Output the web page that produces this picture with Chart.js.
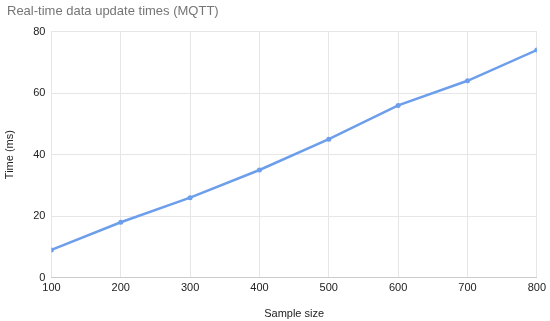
<!DOCTYPE html>
<html lang="en">
<head>
    <meta charset="UTF-8">
    <style>
        body { margin: 0; background: #fff; }
        #wrap { width: 550px; height: 321px; }
    </style>
</head>
<body>
<script src="https://cdn.jsdelivr.net/npm/chart.js@4/dist/chart.umd.min.js"></script>
<div id="wrap"><canvas id="line-chart" width="550" height="321"></canvas></div>
<script>
    // data
    sample_sizes = [100, 200, 300, 400, 500, 600, 700, 800]
    times_ms = [9, 18, 26, 35, 45, 56, 64, 74]

    points = sample_sizes.map((x, i) => ({ x: x, y: times_ms[i] }))

    Chart.defaults.font.family = "'Liberation Sans', Arial, sans-serif"
    Chart.defaults.color = '#222'

    new Chart(document.getElementById('line-chart'), {
        type: 'line',
        data: {
            datasets: [{
                label: 'Time (ms)',
                data: points,
                borderColor: '#6d9eeb',
                backgroundColor: '#6d9eeb',
                borderWidth: 2.5,
                pointRadius: 2.5,
                pointBorderWidth: 0,
                pointHoverRadius: 2.5,
                tension: 0
            }]
        },
        options: {
            responsive: false,
            animation: false,
            layout: { padding: { left: 7, right: 10, top: 2, bottom: 0 } },
            plugins: {
                legend: { display: false },
                title: {
                    display: true,
                    text: 'Real-time data update times (MQTT)',
                    align: 'start',
                    color: '#757575',
                    font: { size: 13, weight: 'normal' },
                    padding: { top: 2, bottom: 12 }
                }
            },
            scales: {
                x: {
                    type: 'linear',
                    min: 100,
                    max: 800,
                    ticks: { stepSize: 100, padding: 4, font: { size: 11 } },
                    grid: { color: '#e6e6e6', drawTicks: false },
                    border: { color: '#cccccc' },
                    title: { display: true, text: 'Sample size', font: { size: 11 }, padding: { top: 9, bottom: 0 } }
                },
                y: {
                    min: 0,
                    max: 80,
                    ticks: { stepSize: 20, padding: 6, font: { size: 11 } },
                    grid: { color: '#e6e6e6', drawTicks: false },
                    border: { display: false },
                    title: { display: true, text: 'Time (ms)', font: { size: 11 }, padding: { top: -4, bottom: 11 } }
                }
            }
        }
    })
</script>
</body>
</html>
